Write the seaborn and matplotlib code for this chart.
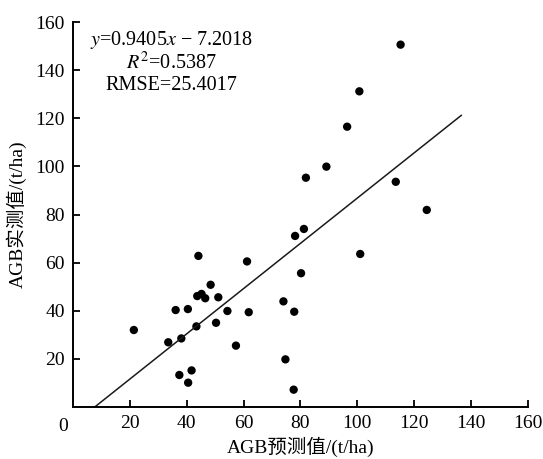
import numpy as np
import pandas as pd
import matplotlib
matplotlib.use("Agg")
import matplotlib.pyplot as plt
import seaborn as sns

# Data

predicted = [21.4, 33.5, 38.1, 36.1, 40.4, 43.4, 37.4, 41.7, 40.5, 48.4,
             43.7, 45.2, 46.5, 51.1, 54.3, 50.3, 57.3, 61.8, 61.2, 44.1,
             80.2, 74.0, 77.8, 74.7, 77.6, 78.1, 81.2, 101.0, 124.4, 113.5,
             115.2, 100.7, 96.4, 89.1, 81.9]

measured = [32.0, 26.9, 28.5, 40.3, 40.7, 33.5, 13.3, 15.2, 10.1, 50.8,
            46.1, 47.0, 45.2, 45.6, 39.9, 35.0, 25.5, 39.4, 60.5, 62.8,
            55.6, 43.9, 39.6, 19.8, 7.2, 71.1, 74.0, 63.6, 81.9, 93.6,
            150.6, 131.2, 116.5, 99.9, 95.3]

slope = 0.9405
intercept = -7.2018
line_end = 136.6

x_ticks = [20, 40, 60, 80, 100, 120, 140, 160]
y_ticks = [20, 40, 60, 80, 100, 120, 140, 160]

x_label = "AGB预测值/(t/ha)"
y_label = "AGB实测值/(t/ha)"

df = pd.DataFrame({"pred": predicted, "meas": measured})

sns.set_style("white")
plt.rcParams["font.family"] = ["Liberation Serif", "Noto Sans CJK SC"]
plt.rcParams["mathtext.fontset"] = "stix"
plt.rcParams["text.color"] = "black"
plt.rcParams["axes.labelcolor"] = "black"

fig = plt.figure(figsize=(5.43, 4.59), dpi=100)
ax = fig.add_axes([0.1344, 0.1133, 0.8380, 0.8387])

sns.scatterplot(
    data=df,
    x="pred",
    y="meas",
    color="black",
    s=36,
    edgecolor="none",
    ax=ax
)

# Fitted line, from where it crosses y=0
line_x = np.array([-intercept / slope, line_end])
line_df = pd.DataFrame({"x": line_x, "y": slope * line_x + intercept})

sns.lineplot(
    data=line_df,
    x="x",
    y="y",
    color="#1a1a1a",
    linewidth=1.1,
    ax=ax
)

ax.set_xlim(0, 160)
ax.set_ylim(0, 160)
ax.set_xticks(x_ticks)
ax.set_yticks(y_ticks)

ax.tick_params(bottom=True, left=True, direction="in", length=5, width=1.3,
               labelsize=14, pad=6, colors="black")

for side in ["top", "right"]:
    ax.spines[side].set_visible(False)
for side in ["left", "bottom"]:
    ax.spines[side].set_linewidth(1.4)
    ax.spines[side].set_color("black")

# shared origin label
ax.text(-1.8, -4.5, "0", ha="right", va="top", fontsize=14)

ax.set_xlabel(x_label, fontsize=14, labelpad=3)
ax.set_ylabel(y_label, fontsize=14, labelpad=6)

ax.text(34.5, 152.5, f"$y$=0.9405$x$ − 7.2018", ha="center", va="center",
        fontsize=14.5)
ax.text(34.5, 143.0, "$R^2$=0.5387", ha="center", va="center",
        fontsize=14.5)
ax.text(34.5, 133.8, "RMSE=25.4017", ha="center", va="center",
        fontsize=14.5)

plt.savefig("out.png", dpi=100)
plt.close()
